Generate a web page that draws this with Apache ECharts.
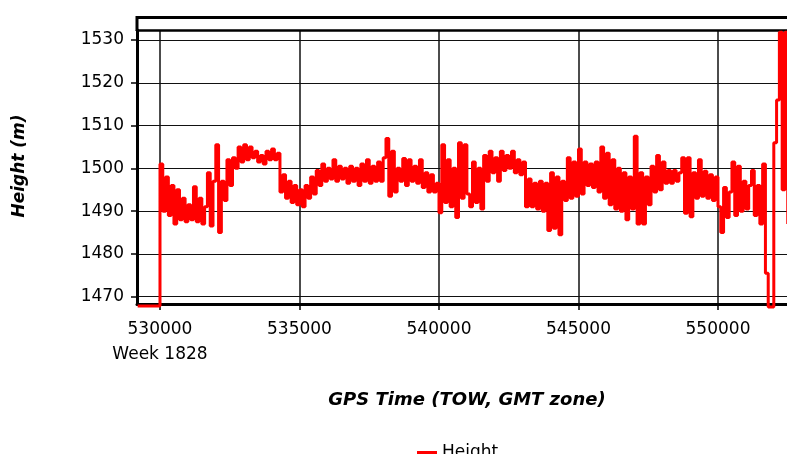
<!DOCTYPE html>
<html>
<head>
<meta charset="utf-8">
<script src="https://cdn.jsdelivr.net/npm/echarts@6.0.0/dist/echarts.min.js"></script>
<style>
  html, body { margin: 0; padding: 0; background: #fff; }
  #chart { width: 787px; height: 454px; }
</style>
</head>
<body>
<div id="chart"></div>
<script>
// GPS time of week (s) of each height sample
const gpsTime = [
  529200,529300,529400,529500,529600,529700,529800,529900,530000,530100,
  530200,530300,530400,530500,530600,530700,530800,530900,531000,531100,
  531200,531300,531400,531500,531600,531700,531800,531900,532000,532100,
  532200,532300,532400,532500,532600,532700,532800,532900,533000,533100,
  533200,533300,533400,533500,533600,533700,533800,533900,534000,534100,
  534200,534300,534400,534500,534600,534700,534800,534900,535000,535100,
  535200,535300,535400,535500,535600,535700,535800,535900,536000,536100,
  536200,536300,536400,536500,536600,536700,536800,536900,537000,537100,
  537200,537300,537400,537500,537600,537700,537800,537900,538000,538100,
  538200,538300,538400,538500,538600,538700,538800,538900,539000,539100,
  539200,539300,539400,539500,539600,539700,539800,539900,540000,540100,
  540200,540300,540400,540500,540600,540700,540800,540900,541000,541100,
  541200,541300,541400,541500,541600,541700,541800,541900,542000,542100,
  542200,542300,542400,542500,542600,542700,542800,542900,543000,543100,
  543200,543300,543400,543500,543600,543700,543800,543900,544000,544100,
  544200,544300,544400,544500,544600,544700,544800,544900,545000,545100,
  545200,545300,545400,545500,545600,545700,545800,545900,546000,546100,
  546200,546300,546400,546500,546600,546700,546800,546900,547000,547100,
  547200,547300,547400,547500,547600,547700,547800,547900,548000,548100,
  548200,548300,548400,548500,548600,548700,548800,548900,549000,549100,
  549200,549300,549400,549500,549600,549700,549800,549900,550000,550100,
  550200,550300,550400,550500,550600,550700,550800,550900,551000,551100,
  551200,551300,551400,551500,551600,551700,551800,551900,552000,552100,
  552200,552300,552400,552500
];

// Ellipsoidal height (m) at each sample
const height = [
  1467.8,1467.8,1467.8,1467.8,1467.8,1467.8,1467.8,1467.8,1501,1490,
  1498,1489,1496,1487,1495,1488,1493,1487.5,1491.5,1488,
  1495.7,1487.5,1493,1487,1491,1499,1486.5,1497,1505.5,1485,
  1497,1492.5,1502,1496,1502.5,1500,1505,1501.5,1505.5,1502,
  1505,1502.5,1504,1501.5,1503,1501,1504,1502,1504.5,1502,
  1503.5,1494.5,1498.5,1493,1497,1492,1496,1491.5,1495,1491,
  1496,1493,1498,1494,1499.5,1496,1501,1497,1500,1497.5,
  1502,1497,1500.5,1497.5,1500,1496.5,1500.5,1497,1500,1496,
  1501,1497,1502,1496.5,1500.5,1497,1501.5,1497,1502.5,1507,
  1493.5,1504,1494.5,1500,1497,1502.3,1496,1502,1497,1500.5,
  1496.5,1502,1495.5,1499,1494.5,1498.5,1494.5,1496.5,1489.6,1505.5,
  1492,1502,1491,1500,1488.5,1506,1493,1505.5,1494,1491,
  1501.5,1492,1500,1490.5,1503,1497,1504,1499,1502.5,1497,
  1504,1499.5,1503,1500,1504,1499,1502,1498.5,1501.5,1491,
  1497.5,1491,1496.5,1490.5,1497,1490,1496.5,1485.5,1499,1486,
  1498,1484.5,1497,1492.5,1502.5,1493,1501.5,1493.5,1504.5,1494,
  1501.5,1496,1501,1495.5,1501.5,1494.5,1505,1493,1503.5,1491.5,
  1502,1490.5,1500,1490,1499,1488,1498,1490.5,1507.5,1487,
  1499,1487,1498,1491.5,1500.5,1494.5,1503,1495,1501.5,1496.5,
  1499.5,1496.5,1499.5,1497,1499,1502.5,1489.5,1502.5,1488.7,1499,
  1493,1502,1493.5,1499.3,1493,1498.5,1492.5,1498,1491,1485,
  1495.5,1488.5,1494.5,1501.5,1489,1500.5,1490,1497,1490.5,1496,
  1499.5,1489,1496,1487,1501,1475.5,1467.6,1467.6,1506,1516,
  1531.8,1495,1531.8,1487
];

const xTickValues = [530000, 535000, 540000, 545000, 550000];
const yTickValues = [1470, 1480, 1490, 1500, 1510, 1520, 1530];
const weekLabel = 'Week 1828';
const seriesName = 'Height';
const xTitle = 'GPS Time (TOW, GMT zone)';
const yTitle = 'Height (m)';

const FONT = 'DejaVu Sans';
const RED = '#ff0000';
const xMin = 529176, xMax = 555000;
const yMin = 1468.29, yMax = 1532.34;

const chart = echarts.init(document.getElementById('chart'), null, { renderer: 'canvas' });

chart.setOption({
  animation: false,
  backgroundColor: '#ffffff',
  grid: {
    left: 137, top: 30, width: 720.5, height: 274,
    containLabel: false, outerBoundsMode: 'none'
  },
  legend: {
    data: [seriesName],
    left: 417, top: 444, padding: 0,
    icon: 'rect', itemWidth: 20, itemHeight: 4,
    itemStyle: { color: RED, borderWidth: 0 },
    textStyle: { fontFamily: FONT, fontSize: 17, color: '#000', lineHeight: 18 }
  },
  xAxis: [
    {
      type: 'value', min: xMin, max: xMax, splitNumber: 5,
      axisLine: { show: true, onZero: false, lineStyle: { color: '#000', width: 3 } },
      axisTick: { show: true, length: 6, customValues: xTickValues, lineStyle: { color: '#000', width: 1.5 } },
      splitLine: { show: true, lineStyle: { color: '#111', width: 1.5 } },
      axisLabel: {
        show: true, margin: 13, fontFamily: FONT, fontSize: 17, color: '#000', lineHeight: 25,
        customValues: xTickValues,
        formatter: function (v) {
          const r = Math.round(v);
          if (xTickValues.indexOf(r) < 0) return '';
          return r === xTickValues[0] ? r + '\n' + weekLabel : String(r);
        }
      }
    },
    {
      type: 'value', position: 'top', min: xMin, max: xMax,
      axisLine: { show: true, onZero: false, lineStyle: { color: '#000', width: 2.5 } },
      axisTick: { show: false }, axisLabel: { show: false }, splitLine: { show: false }
    }
  ],
  yAxis: {
    type: 'value', min: yMin, max: yMax, splitNumber: 6,
    axisLine: { show: true, onZero: false, lineStyle: { color: '#000', width: 3 } },
    axisTick: { show: true, length: 6, customValues: yTickValues, lineStyle: { color: '#000', width: 1.5 } },
    splitLine: { show: true, lineStyle: { color: '#111', width: 1.2 } },
    axisLabel: {
      show: true, margin: 13, fontFamily: FONT, fontSize: 17, color: '#000',
      customValues: yTickValues,
      formatter: function (v) {
        const r = Math.round(v * 100) / 100;
        return yTickValues.indexOf(r) < 0 ? '' : String(r);
      }
    }
  },
  series: [{
    type: 'line',
    name: seriesName,
    xAxisIndex: 0,
    data: gpsTime.map(function (t, i) { return [t, height[i]]; }),
    step: 'end',
    showSymbol: false,
    symbol: 'none',
    clip: false,
    lineStyle: { color: RED, width: 3 },
    itemStyle: { color: RED },
    z: 3
  }],
  graphic: [
    {
      type: 'polyline', silent: true, z: 10,
      shape: { points: [[137, 31], [137, 17.5], [800, 17.5]] },
      style: { stroke: '#000', lineWidth: 3, fill: null }
    },
    {
      type: 'text', silent: true, x: 467, y: 400,
      style: {
        text: xTitle, fill: '#000',
        font: 'italic bold 18px "DejaVu Sans"',
        align: 'center', verticalAlign: 'middle',
        textAlign: 'center', textVerticalAlign: 'middle'
      }
    },
    {
      type: 'text', silent: true, x: 19.5, y: 166, rotation: Math.PI / 2,
      style: {
        text: yTitle, fill: '#000',
        font: 'italic bold 17px "DejaVu Sans"',
        align: 'center', verticalAlign: 'middle',
        textAlign: 'center', textVerticalAlign: 'middle'
      }
    }
  ]
});
</script>
</body>
</html>
